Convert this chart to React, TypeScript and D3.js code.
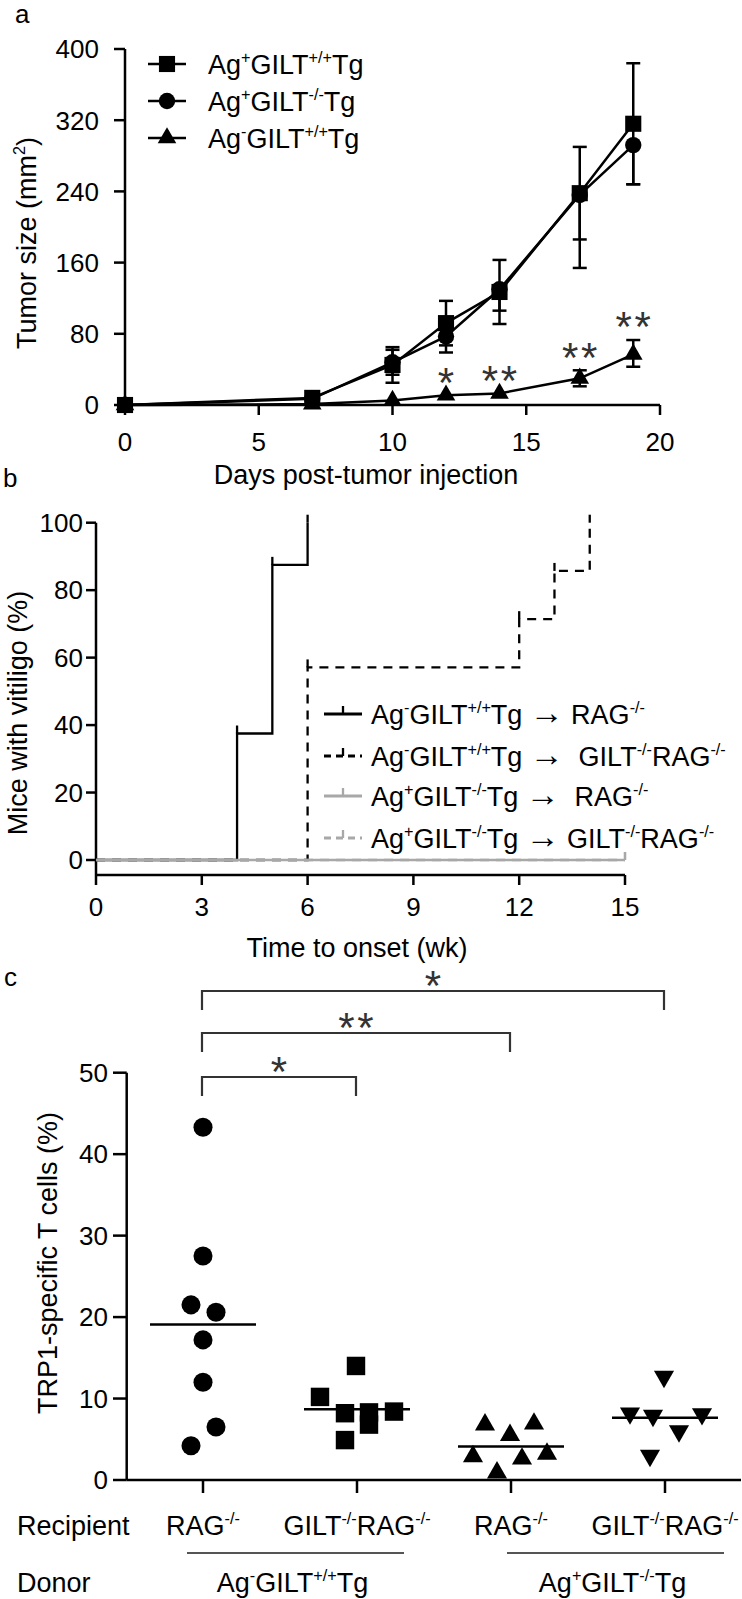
import React from 'react';
import * as d3 from 'd3';

const FONT = "'Liberation Sans', Arial, Helvetica, sans-serif";
const W = 742;
const H = 1599;

// ---------- Panel a data ----------
const daysA = [0, 7, 10, 12, 14, 17, 19];
const legendA = ['Ag^{+}GILT^{+/+}Tg', 'Ag^{+}GILT^{-/-}Tg', 'Ag^{-}GILT^{+/+}Tg'];
const sqMean = [0, 8, 45, 92, 127, 238, 316];
const sqErrUp = [0, 2, 20, 25, 36, 52, 68];
const sqErrDown = [0, 2, 20, 25, 36, 52, 68];
const ciMean = [0, 7, 48, 77, 130, 236, 292];
const ciErrUp = [0, 0, 14, 0, 0, 0, 0];
const ciErrDown = [0, 2, 14, 18, 24, 82, 44];
const trMean = [0, 1, 5, 11, 13, 30, 57];
const trErrUp = [0, 0, 0, 0, 0, 9, 16];
const trErrDown = [0, 0, 0, 0, 0, 9, 14];
const xTicksA = [0, 5, 10, 15, 20];
const yTicksA = [0, 80, 160, 240, 320, 400];
const starDaysA = [12, 14, 17, 19];
const starLabelsA = ['*', '**', '**', '**'];

// ---------- Panel b data ----------
const legendB = [
  'Ag^{-}GILT^{+/+}Tg \u2192 RAG^{-/-}',
  'Ag^{-}GILT^{+/+}Tg \u2192  GILT^{-/-}RAG^{-/-}',
  'Ag^{+}GILT^{-/-}Tg \u2192  RAG^{-/-}',
  'Ag^{+}GILT^{-/-}Tg \u2192 GILT^{-/-}RAG^{-/-}',
];
const timesB1 = [0, 4, 5, 6];
const pctB1 = [0, 37.5, 87.5, 100];
const timesB2 = [0, 6, 12, 13, 14];
const pctB2 = [0, 57.1, 71.4, 85.7, 100];
const timesB3 = [0, 15];
const pctB3 = [0, 0];
const timesB4 = [0, 15];
const pctB4 = [0, 0];
const xTicksB = [0, 3, 6, 9, 12, 15];
const yTicksB = [0, 20, 40, 60, 80, 100];

// ---------- Panel c data ----------
const groupsC = ['g1', 'g2', 'g3', 'g4'];
const recipientLabels = ['RAG^{-/-}', 'GILT^{-/-}RAG^{-/-}', 'RAG^{-/-}', 'GILT^{-/-}RAG^{-/-}'];
const donorLabels = ['Ag^{-}GILT^{+/+}Tg', 'Ag^{+}GILT^{-/-}Tg'];
const valsC1 = [43.3, 27.5, 21.5, 20.6, 17.2, 12.0, 6.5, 4.2];
const jitC1 = [0, 0, -12, 13, 0, 0, 13, -12];
const valsC2 = [14.0, 10.2, 8.2, 4.9, 8.3, 6.8, 8.4];
const jitC2 = [-1, -37, -12, -12, 12, 12, 37];
const valsC3 = [6.8, 6.9, 5.5, 2.9, 2.6, 3.2, 0.9];
const jitC3 = [-26, 23, -1, -38, 11, 36, -14];
const valsC4 = [12.7, 8.2, 7.9, 8.1, 6.0, 3.0];
const jitC4 = [-1, -35, -12, 37, 14, -15];
const yTicksC = [0, 10, 20, 30, 40, 50];
const comparisonsC: [number, number, string][] = [
  [0, 1, '*'],
  [0, 2, '**'],
  [0, 3, '*'],
];

function parseSup(s: string) {
  const parts: { t: string; kind: string }[] = [];
  const re = /\^\{([^}]*)\}/g;
  let last = 0;
  let m: RegExpExecArray | null;
  const pushNormal = (str: string) => {
    const bits = str.split('\u2192');
    bits.forEach((b, i) => {
      if (i > 0) parts.push({ t: '\u2192', kind: 'arrow' });
      if (b.length) parts.push({ t: b, kind: 'normal' });
    });
  };
  while ((m = re.exec(s))) {
    if (m.index > last) pushNormal(s.slice(last, m.index));
    parts.push({ t: m[1], kind: 'sup' });
    last = re.lastIndex;
  }
  if (last < s.length) pushNormal(s.slice(last));
  return parts;
}

function Rich({ x, y, text, size = 27, anchor = 'start', fill = '#000' }: any) {
  const parts = parseSup(text);
  const shift = size * 0.4;
  let cur = 0;
  return (
    <text
      x={x}
      y={y}
      fontSize={size}
      textAnchor={anchor}
      fill={fill}
      fontFamily={FONT}
      style={{ whiteSpace: 'pre' }}
    >
      {parts.map((p, i) => {
        const target = p.kind === 'sup' ? -shift : 0;
        const dy = target - cur;
        cur = target;
        const fs = p.kind === 'sup' ? size * 0.6 : p.kind === 'arrow' ? size * 1.25 : size;
        return (
          <tspan key={i} dy={dy} fontSize={fs}>
            {p.t}
          </tspan>
        );
      })}
    </text>
  );
}

function Stars({ cx, cy, label, size = 42, fill = '#333' }: any) {
  const n = label.length;
  const gap = 19;
  const items = [];
  for (let i = 0; i < n; i++) {
    const x = cx + (i - (n - 1) / 2) * gap;
    items.push(
      <text key={i} x={x} y={cy + size * 0.58} fontSize={size} textAnchor="middle" fontFamily={FONT} fill={fill}>
        *
      </text>
    );
  }
  return <g>{items}</g>;
}

export default function App() {
  const FS = 26; // tick labels
  const TS = 27; // titles, legends, category labels
  const AW = 2.5;

  // ---------- Panel a ----------
  const xA = d3.scaleLinear().domain([0, 20]).range([125, 660]);
  const yA = d3.scaleLinear().domain([0, 400]).range([405, 49]);
  const seriesA = [
    { mean: trMean, up: trErrUp, down: trErrDown, shape: d3.symbolTriangle, size: 150 },
    { mean: ciMean, up: ciErrUp, down: ciErrDown, shape: d3.symbolCircle, size: 210 },
    { mean: sqMean, up: sqErrUp, down: sqErrDown, shape: d3.symbolSquare, size: 260 },
  ];
  const lineA = (vals: number[]) =>
    d3
      .line<number>()
      .x((_, i) => xA(daysA[i]))
      .y((d) => yA(d))(vals) as string;

  const legendAItems = [
    { name: legendA[0], shape: d3.symbolSquare, size: 260 },
    { name: legendA[1], shape: d3.symbolCircle, size: 210 },
    { name: legendA[2], shape: d3.symbolTriangle, size: 150 },
  ];

  // ---------- Panel b ----------
  const xB = d3.scaleLinear().domain([0, 15]).range([96, 625]);
  const yB = d3.scaleLinear().domain([0, 100]).range([860, 522.7]);
  const xAxisB = 875;
  const stepLine = (t: number[], v: number[]) =>
    d3
      .line<number>()
      .x((_, i) => xB(t[i]))
      .y((d) => yB(d))
      .curve(d3.curveStepAfter)(v) as string;
  const GRAY = '#a8a8a8';
  const seriesB = [
    { t: timesB2, v: pctB2, color: '#000', dash: '9,7' },
    { t: timesB1, v: pctB1, color: '#000', dash: null },
    { t: timesB4, v: pctB4, color: GRAY, dash: '9,7' },
    { t: timesB3, v: pctB3, color: GRAY, dash: null },
  ];
  const legendBStyle = [
    { color: '#000', dash: null },
    { color: '#000', dash: '7,5' },
    { color: GRAY, dash: null },
    { color: GRAY, dash: '7,5' },
  ];
  const legendBY = [714, 756, 796, 838];

  // ---------- Panel c ----------
  const xC = d3.scaleBand().domain(groupsC).range([126, 742]);
  const cxC = (i: number) => (xC(groupsC[i]) as number) + xC.bandwidth() / 2;
  const yC = d3.scaleLinear().domain([0, 50]).range([1480, 1072.7]);
  const groupsData = [
    { vals: valsC1, jit: jitC1, shape: d3.symbolCircle, size: 285, rot: 0 },
    { vals: valsC2, jit: jitC2, shape: d3.symbolSquare, size: 340, rot: 0 },
    { vals: valsC3, jit: jitC3, shape: d3.symbolTriangle, size: 175, rot: 0 },
    { vals: valsC4, jit: jitC4, shape: d3.symbolTriangle, size: 175, rot: 180 },
  ];
  const bracketTops = [1077, 1033, 991];

  const cap = (x: number, y: number, k: string) => (
    <line key={k} x1={x - 7} x2={x + 7} y1={y} y2={y} stroke="#000" strokeWidth={2.5} />
  );

  return (
    <svg
      width={W}
      height={H}
      viewBox={`0 0 ${W} ${H}`}
      style={{ position: 'absolute', left: 0, top: 0, background: '#fff' }}
      fontFamily={FONT}
    >
      <rect x={0} y={0} width={W} height={H} fill="#fff" />

      {/* ================= Panel a ================= */}
      <text x={15} y={23} fontSize={26} fontFamily={FONT}>a</text>
      {/* y axis */}
      <line x1={xA(0)} x2={xA(0)} y1={yA(400)} y2={yA(0)} stroke="#000" strokeWidth={AW} />
      {yTicksA.map((t) => (
        <g key={'ya' + t}>
          <line x1={xA(0) - 11} x2={xA(0)} y1={yA(t)} y2={yA(t)} stroke="#000" strokeWidth={AW} />
          <text x={99} y={yA(t) + 9.3} fontSize={FS} textAnchor="end" fontFamily={FONT}>
            {t}
          </text>
        </g>
      ))}
      {/* x axis */}
      <line x1={xA(0)} x2={xA(20)} y1={yA(0)} y2={yA(0)} stroke="#000" strokeWidth={AW} />
      {xTicksA.map((t) => (
        <g key={'xa' + t}>
          <line x1={xA(t)} x2={xA(t)} y1={yA(0)} y2={yA(0) + 10} stroke="#000" strokeWidth={AW} />
          <text x={xA(t)} y={442 + 9.3} fontSize={FS} textAnchor="middle" fontFamily={FONT}>
            {t}
          </text>
        </g>
      ))}
      <text x={366} y={484} fontSize={TS} textAnchor="middle" fontFamily={FONT}>
        Days post-tumor injection
      </text>
      <g transform={`translate(36,243) rotate(-90)`}>
        <Rich x={0} y={0} text={'Tumor size (mm^{2})'} size={TS} anchor="middle" />
      </g>

      {/* series */}
      {seriesA.map((s, si) => (
        <g key={'sa' + si}>
          <path d={lineA(s.mean)} fill="none" stroke="#000" strokeWidth={2.5} />
          {s.mean.map((m, i) => {
            const x = xA(daysA[i]);
            const els = [];
            if (s.up[i] > 0) {
              els.push(<line key="u" x1={x} x2={x} y1={yA(m)} y2={yA(m + s.up[i])} stroke="#000" strokeWidth={2.5} />);
              els.push(cap(x, yA(m + s.up[i]), 'uc'));
            }
            if (s.down[i] > 0) {
              els.push(<line key="d" x1={x} x2={x} y1={yA(m)} y2={yA(m - s.down[i])} stroke="#000" strokeWidth={2.5} />);
              els.push(cap(x, yA(m - s.down[i]), 'dc'));
            }
            return <g key={i}>{els}</g>;
          })}
          {s.mean.map((m, i) => (
            <path
              key={'m' + i}
              d={d3.symbol().type(s.shape).size(s.size)() as string}
              transform={`translate(${xA(daysA[i])},${yA(m)})`}
              fill="#000"
            />
          ))}
        </g>
      ))}
      {starDaysA.map((d, i) => {
        const idx = daysA.indexOf(d);
        const top = trMean[idx] + trErrUp[idx];
        return <Stars key={'st' + i} cx={xA(d)} cy={yA(top) - 23} label={starLabelsA[i]} />;
      })}
      {/* legend a */}
      {legendAItems.map((it, i) => {
        const y = 64 + i * 37;
        return (
          <g key={'la' + i}>
            <line x1={148} x2={186} y1={y} y2={y} stroke="#000" strokeWidth={2.5} />
            <path d={d3.symbol().type(it.shape).size(it.size)() as string} transform={`translate(167,${y})`} fill="#000" />
            <Rich x={208} y={y + 9.5} text={it.name} size={TS} />
          </g>
        );
      })}

      {/* ================= Panel b ================= */}
      <text x={3} y={487} fontSize={26} fontFamily={FONT}>b</text>
      <line x1={xB(0)} x2={xB(0)} y1={yB(100)} y2={xAxisB} stroke="#000" strokeWidth={AW} />
      {yTicksB.map((t) => (
        <g key={'yb' + t}>
          <line x1={xB(0) - 10} x2={xB(0)} y1={yB(t)} y2={yB(t)} stroke="#000" strokeWidth={AW} />
          <text x={83} y={yB(t) + 9.3} fontSize={FS} textAnchor="end" fontFamily={FONT}>
            {t}
          </text>
        </g>
      ))}
      <line x1={xB(0)} x2={xB(15)} y1={xAxisB} y2={xAxisB} stroke="#000" strokeWidth={AW} />
      {xTicksB.map((t) => (
        <g key={'xb' + t}>
          <line x1={xB(t)} x2={xB(t)} y1={xAxisB} y2={xAxisB + 10} stroke="#000" strokeWidth={AW} />
          <text x={xB(t)} y={907 + 9.3} fontSize={FS} textAnchor="middle" fontFamily={FONT}>
            {t}
          </text>
        </g>
      ))}
      <text x={357} y={957} fontSize={TS} textAnchor="middle" fontFamily={FONT}>
        Time to onset (wk)
      </text>
      <text
        transform={`translate(27,713) rotate(-90)`}
        x={0}
        y={0}
        fontSize={TS}
        textAnchor="middle"
        fontFamily={FONT}
      >
        Mice with vitiligo (%)
      </text>
      {seriesB.map((s, si) => (
        <g key={'sb' + si}>
          <path
            d={stepLine(s.t, s.v)}
            fill="none"
            stroke={s.color}
            strokeWidth={2.3}
            strokeDasharray={s.dash || undefined}
          />
          {s.t.map((t, i) =>
            i > 0 && (s.v[i] !== s.v[i - 1] || i === s.t.length - 1) ? (
              <line
                key={i}
                x1={xB(t)}
                x2={xB(t)}
                y1={yB(s.v[i])}
                y2={yB(s.v[i]) - 8}
                stroke={s.color}
                strokeWidth={2.3}
              />
            ) : null
          )}
        </g>
      ))}
      {legendB.map((lab, i) => {
        const y = legendBY[i];
        const st = legendBStyle[i];
        return (
          <g key={'lb' + i}>
            <line x1={324} x2={362} y1={y} y2={y} stroke={st.color} strokeWidth={3.2} strokeDasharray={st.dash || undefined} />
            <line x1={343} x2={343} y1={y} y2={y - 8} stroke={st.color} strokeWidth={2.3} />
            <Rich x={371} y={y + 9.5} text={lab} size={TS} />
          </g>
        );
      })}

      {/* ================= Panel c ================= */}
      <text x={4} y={986} fontSize={26} fontFamily={FONT}>c</text>
      <line x1={126.7} x2={126.7} y1={yC(50)} y2={yC(0)} stroke="#000" strokeWidth={AW} />
      {yTicksC.map((t) => (
        <g key={'yc' + t}>
          <line x1={113} x2={126.7} y1={yC(t)} y2={yC(t)} stroke="#000" strokeWidth={AW} />
          <text x={108} y={yC(t) + 9.3} fontSize={FS} textAnchor="end" fontFamily={FONT}>
            {t}
          </text>
        </g>
      ))}
      <line x1={126.7} x2={741} y1={yC(0)} y2={yC(0)} stroke="#000" strokeWidth={AW} />
      {groupsC.map((g, i) => (
        <line key={'xc' + g} x1={cxC(i)} x2={cxC(i)} y1={yC(0)} y2={yC(0) + 13} stroke="#000" strokeWidth={AW} />
      ))}
      <text
        transform={`translate(57,1263) rotate(-90)`}
        x={0}
        y={0}
        fontSize={TS}
        textAnchor="middle"
        fontFamily={FONT}
      >
        TRP1-specific T cells (%)
      </text>
      {groupsData.map((gd, gi) => (
        <g key={'gc' + gi}>
          {gd.vals.map((v, i) => (
            <path
              key={i}
              d={d3.symbol().type(gd.shape).size(gd.size)() as string}
              transform={`translate(${cxC(gi) + gd.jit[i]},${yC(v)}) rotate(${gd.rot})`}
              fill="#000"
            />
          ))}
          <line
            x1={cxC(gi) - 53}
            x2={cxC(gi) + 53}
            y1={yC(d3.mean(gd.vals) as number)}
            y2={yC(d3.mean(gd.vals) as number)}
            stroke="#000"
            strokeWidth={2.5}
          />
        </g>
      ))}
      {comparisonsC.map(([a, b, lab], i) => {
        const top = bracketTops[i];
        const x1 = cxC(a) - 1;
        const x2 = cxC(b) - 1;
        return (
          <g key={'br' + i}>
            <path
              d={`M${x1},${top + 19}V${top}H${x2}V${top + 19}`}
              fill="none"
              stroke="#333"
              strokeWidth={2.2}
            />
            <Stars cx={(x1 + x2) / 2} cy={top - 15} label={lab} />
          </g>
        );
      })}
      {/* category labels */}
      <text x={17} y={1525 + 9.5} fontSize={TS} fontFamily={FONT}>Recipient</text>
      {recipientLabels.map((l, i) => (
        <Rich key={'rl' + i} x={cxC(i)} y={1525 + 9.5} text={l} size={TS} anchor="middle" />
      ))}
      <text x={17} y={1582 + 9.5} fontSize={TS} fontFamily={FONT}>Donor</text>
      {donorLabels.map((l, i) => {
        const a = i === 0 ? cxC(0) - 16 : cxC(2) - 4;
        const b = i === 0 ? cxC(1) + 47 : cxC(3) + 59;
        return (
          <g key={'dl' + i}>
            <line x1={a} x2={b} y1={1553} y2={1553} stroke="#555" strokeWidth={2.2} />
            <Rich x={(a + b) / 2 - 3} y={1582 + 9.5} text={l} size={TS} anchor="middle" />
          </g>
        );
      })}
    </svg>
  );
}
